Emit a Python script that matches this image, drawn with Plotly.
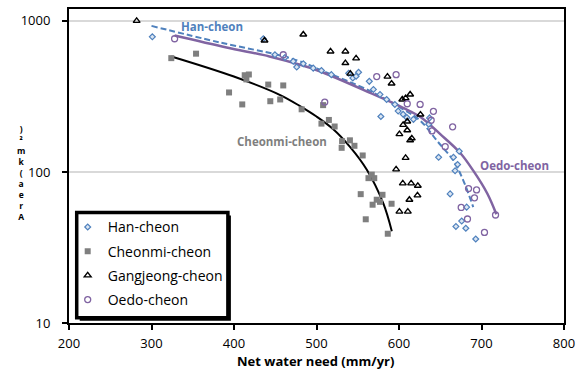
import plotly.graph_objects as go

# ---------------- data ----------------
han_x = [301, 435.5, 449.6, 461.8, 471.8, 476, 484, 496, 506, 518, 539, 544, 548, 551, 564, 569, 577, 578, 585, 595,
         599, 605, 609.5, 617.5, 637, 636, 648, 666, 673, 668, 671, 662, 682, 669, 676, 681, 693]
han_y = [785, 762, 597, 573, 540, 495, 521, 487, 469, 441, 450, 419, 430, 457, 398, 352, 326, 233, 302, 280,
         253, 241, 229, 223, 228, 207, 125, 125, 137, 102, 112, 71.6, 58.5, 43.6, 47.3, 42.4, 36]

cheonmi_x = [324, 354, 394, 410, 413, 418, 415, 441.5, 459.7, 444, 456, 482, 508, 506, 515, 522, 530.5, 531, 540.5,
             546, 556, 563, 567, 570, 553.6, 559.7, 568, 573, 577, 580, 591, 586.4]
cheonmi_y = [567, 607, 336, 280, 437, 442, 410, 379, 374, 294, 302, 260, 277, 209, 221, 200, 144.5, 160, 162,
             149, 128.6, 91, 96, 91, 71.3, 48.6, 60.7, 65.5, 63.4, 70.6, 61.6, 39]

gang_x = [282, 437, 484, 517, 535, 535, 548, 541, 586, 591, 604, 608, 613.5, 626, 605, 610, 610, 600.5, 613.5,
          615.5, 608, 596.5, 604.6, 614.7, 622.8, 622.4, 612.6, 600.5, 610.7]
gang_y = [1000, 742, 813, 628, 628, 526, 565, 448, 428, 385, 302, 308, 326, 240, 205, 216, 189, 178, 162,
          167, 124, 104, 84, 84, 81, 70, 65.5, 54.6, 54.6]

oedo_x = [328, 459.7, 510, 573, 596.5, 610, 625.6, 641.7, 639, 640, 665, 656, 684.3, 694, 691.5, 675.4, 683,
          703.6, 717]
oedo_y = [762, 597, 290, 428, 441, 283, 280, 252, 220, 187, 199, 147, 77.6, 76, 67.4, 58.2, 48.8,
          39.8, 51.9]

# trend curves
han_fit_x = [300, 383, 456, 480, 504, 565, 605, 626, 646, 666, 678, 690]
han_fit_y = [927, 720, 591, 540, 476, 343, 260, 218, 161, 118.6, 87.7, 58.5]
cheonmi_fit_x = [324, 399, 456, 480, 500, 520, 540.6, 561, 581, 591.3]
cheonmi_fit_y = [582, 430, 323, 273, 233, 192.7, 146.7, 103.5, 61.9, 40.5]
oedo_fit_x = [328, 391, 443, 480, 504, 565, 605, 626, 650, 674, 690, 707, 718]
oedo_fit_y = [800, 667, 582, 513, 464, 334, 266, 231, 178, 134, 102, 72, 52.5]

x_ticks = [200, 300, 400, 500, 600, 700, 800]
y_ticks = [10, 100, 1000]
y_title_chars = ["A", "r", "e", "a", "(", "k", "m", "²", ")"]

BLUE = "#4F81BD"
PURPLE = "#8064A2"
GRAY = "#7F7F7F"
FONT = "Open Sans"

# plot area in pixels
W, H = 585, 372
L, R, T, B = 69.3, 563.7, 7.3, 323.3


def px_x(p):
    return (p - L) / (R - L)


def px_y(p):
    return (B - p) / (B - T)


fig = go.Figure()

# trend lines
fig.add_trace(go.Scatter(x=han_fit_x, y=han_fit_y, mode="lines",
                         line=dict(color=BLUE, width=2, dash="6px,3px", shape="spline"),
                         showlegend=False, hoverinfo="skip"))
fig.add_trace(go.Scatter(x=cheonmi_fit_x, y=cheonmi_fit_y, mode="lines",
                         line=dict(color="black", width=2, shape="spline"),
                         showlegend=False, hoverinfo="skip"))
fig.add_trace(go.Scatter(x=oedo_fit_x, y=oedo_fit_y, mode="lines",
                         line=dict(color=PURPLE, width=2.5, shape="spline"),
                         showlegend=False, hoverinfo="skip"))

# scatter series
fig.add_trace(go.Scatter(x=han_x, y=han_y, mode="markers", name="Han-cheon", legendgroup="g1",
                         marker=dict(symbol="diamond", size=4.5, color="#DCE6F2", line=dict(color=BLUE, width=1.2))))
fig.add_trace(go.Scatter(x=cheonmi_x, y=cheonmi_y, mode="markers", name="Cheonmi-cheon", legendgroup="g2",
                         marker=dict(symbol="square", size=6, color=GRAY, line=dict(width=0))))
fig.add_trace(go.Scatter(x=gang_x, y=gang_y, mode="markers", name="Gangjeong-cheon", legendgroup="g3",
                         marker=dict(symbol="triangle-up-open", size=6, color="black",
                                     line=dict(color="black", width=1.4))))
fig.add_trace(go.Scatter(x=oedo_x, y=oedo_y, mode="markers", name="Oedo-cheon", legendgroup="g4",
                         marker=dict(symbol="circle-open", size=6, color=PURPLE, line=dict(color=PURPLE, width=1.3))))

# legend box (shadow + frame)
lx0, ly0, lx1, ly1 = 77, 212, 228, 318
shapes = [
    dict(type="rect", xref="paper", yref="paper", x0=px_x(lx0 + 3), x1=px_x(lx1 + 3), y0=px_y(ly1 + 3),
         y1=px_y(ly0 + 3), fillcolor="black", line=dict(width=0), layer="above"),
    dict(type="rect", xref="paper", yref="paper", x0=px_x(lx0), x1=px_x(lx1), y0=px_y(ly1), y1=px_y(ly0),
         fillcolor="white", line=dict(color="black", width=3.5), layer="above"),
]

annotations = [
    dict(text="<b>Han-cheon</b>", x=px_x(212), y=px_y(24.5), xref="paper", yref="paper", showarrow=False,
         font=dict(family=FONT, size=11.5, color=BLUE), xanchor="center", yanchor="middle"),
    dict(text="<b>Cheonmi-cheon</b>", x=px_x(282), y=px_y(141), xref="paper", yref="paper", showarrow=False,
         font=dict(family=FONT, size=11.5, color=GRAY), xanchor="center", yanchor="middle"),
    dict(text="<b>Oedo-cheon</b>", x=px_x(514), y=px_y(165), xref="paper", yref="paper", showarrow=False,
         font=dict(family=FONT, size=11.5, color=PURPLE), xanchor="center", yanchor="middle"),
    dict(text="<b>Net water need (mm/yr)</b>", x=px_x(316), y=px_y(362), xref="paper", yref="paper",
         showarrow=False, font=dict(family=FONT, size=13, color="black"), xanchor="center", yanchor="middle"),
    dict(text="<b>" + "<br>".join(reversed(y_title_chars)) + "</b>", x=px_x(21), y=px_y(172), xref="paper",
         yref="paper", showarrow=False, font=dict(family=FONT, size=8.5, color="black"),
         xanchor="center", yanchor="middle"),
]

fig.update_layout(
    width=W, height=H,
    margin=dict(l=L, r=W - R, t=T, b=H - B, pad=0),
    paper_bgcolor="white", plot_bgcolor="white",
    font=dict(family=FONT, size=12, color="black"),
    showlegend=True,
    legend=dict(x=px_x(68), y=px_y(211), xanchor="left", yanchor="top", traceorder="grouped",
                bgcolor="rgba(0,0,0,0)", borderwidth=0, font=dict(family=FONT, size=14, color="black"),
                itemwidth=30, tracegroupgap=3),
    shapes=shapes,
    annotations=annotations,
    xaxis=dict(range=[200, 800], tickvals=x_ticks, ticktext=[str(v) for v in x_ticks], showgrid=False,
               zeroline=False, showline=True, linecolor="black", linewidth=2, mirror=True,
               ticks="outside", ticklen=5, tickwidth=1.5, tickcolor="black", ticklabelstandoff=2,
               tickfont=dict(family=FONT, size=13, color="black")),
    yaxis=dict(type="log", range=[1, 3 + 12 / 152], tickvals=y_ticks, ticktext=[str(v) for v in y_ticks],
               showgrid=True, gridcolor="#D9D9D9", gridwidth=1.5, zeroline=False, showline=True,
               linecolor="black", linewidth=2, mirror=True, ticks="outside", ticklen=5, tickwidth=1.5,
               tickcolor="black", ticklabelstandoff=9, tickfont=dict(family=FONT, size=13, color="black")),
)

fig.write_html("out.html")
